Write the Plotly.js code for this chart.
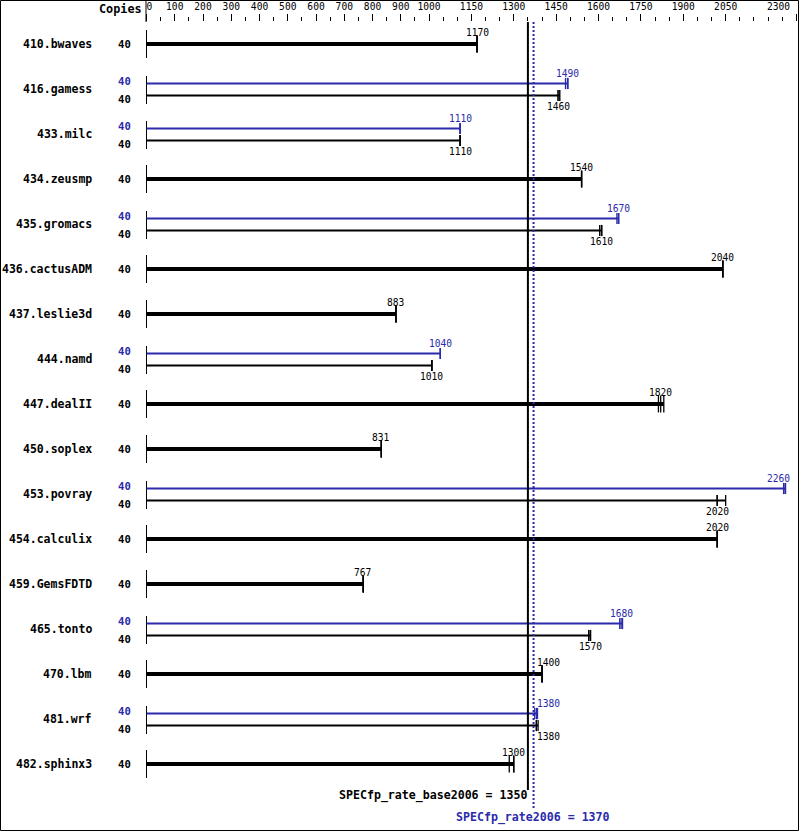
<!DOCTYPE html>
<html><head><meta charset="utf-8">
<script src="https://cdn.plot.ly/plotly-3.0.1.min.js"></script>
<style>html,body{margin:0;padding:0;background:#fff}#chart{width:799px;height:831px}</style>
</head><body><div id="chart"></div>
<script>
// ---------- data ----------
const benchmarks = ["410.bwaves","416.gamess","433.milc","434.zeusmp","435.gromacs","436.cactusADM","437.leslie3d","444.namd","447.dealII","450.soplex","453.povray","454.calculix","459.GemsFDTD","465.tonto","470.lbm","481.wrf","482.sphinx3"];
const baseCopies = [40,40,40,40,40,40,40,40,40,40,40,40,40,40,40,40,40];
const peakCopies = [null,40,40,null,40,null,null,40,null,null,40,null,null,40,null,40,null];
const baseValues = [1170,1460,1110,1540,1610,2040,883,1010,1820,831,2020,2020,767,1570,1400,1380,1300];
const baseRunLow  = [1170,1456,1110,1540,1604,2040,883,1010,1812,831,2020,2020,767,1565,1400,1380,1284];
const baseRunHigh = [1170,1463,1110,1540,1612,2040,883,1010,1831,831,2050,2020,767,1572,1400,1386,1300];
const peakValues  = [null,1490,1110,null,1670,null,null,1040,null,null,2260,null,null,1680,null,1380,null];
const peakRunLow  = [null,1483,1110,null,1665,null,null,1040,null,null,2255,null,null,1675,null,1374,null];
const peakRunHigh = [null,1492,1110,null,1672,null,null,1040,null,null,2262,null,null,1685,null,1384,null];
const baseScore = 1350;
const peakScore = 1370;
const baseScoreLabel = "SPECfp_rate_base2006 = 1350";
const peakScoreLabel = "SPECfp_rate2006 = 1370";
const tickValues = [0,100,200,300,400,500,600,700,800,900,1000,1150,1300,1450,1600,1750,1900,2050,2300];
const tickLabels = ["0","100","200","300","400","500","600","700","800","900","1000","1150","1300","1450","1600","1750","1900","2050","2300"];
const minorTickValues = [50,150,250,350,450,550,650,750,850,950,1050,1100,1200,1250,1350,1400,1500,1550,1650,1700,1800,1850,1950,2000,2100,2150,2200,2250];

// ---------- styling / geometry ----------
const BLUE = "#2a2aaa";
const W = 799, H = 831;
const ML = 146, MR = 1, MT = 22, MB = 1;
const ROWPX = 45;
const xmin = -1.77, xmax = 2306;
const plotW = W - ML - MR, plotH = H - MT - MB;
const pxPer = plotW / (xmax - xmin);
const yTop = -(44 - MT) / ROWPX;
const yBot = yTop + plotH / ROWPX;
const MONO = "DejaVu Sans Mono";
const off = p => p / ROWPX; // pixel offset -> row units

function xpx(v){ return ML + (v - xmin) * pxPer; }

const isPair = i => peakValues[i] !== null;

// ---------- traces ----------
const traces = [];
// start segments
const segX = [], segY = [];
benchmarks.forEach((b, i) => {
  const a = isPair(i) ? -13 : -14, z = isPair(i) ? 15 : 14;
  segX.push(0, 0, null); segY.push(i + off(a), i + off(z), null);
});
traces.push({x: segX, y: segY, mode: "lines", line: {color: "black", width: 1}, hoverinfo: "skip"});

function barTrace(idx, vals, lo, hi, dy, color, width) {
  const x = [], y = [];
  idx.forEach(i => { x.push(0, Math.max(vals[i], hi[i]), null); y.push(i + off(dy), i + off(dy), null); });
  return {x, y, mode: "lines", line: {color, width}, hoverinfo: "skip"};
}
function tickTrace(idx, vals, lo, hi, dy, color, size, lw) {
  const x = [], y = [];
  idx.forEach(i => { [lo[i], vals[i], hi[i]].forEach(v => { x.push(v); y.push(i + off(dy)); }); });
  return {x, y, mode: "markers", marker: {symbol: "line-ns", size, color, line: {color, width: lw}}, hoverinfo: "skip"};
}
const singles = benchmarks.map((b, i) => i).filter(i => !isPair(i));
const pairs = benchmarks.map((b, i) => i).filter(i => isPair(i));

traces.push(barTrace(singles, baseValues, baseRunLow, baseRunHigh, 0, "black", 4));
traces.push(tickTrace(singles, baseValues, baseRunLow, baseRunHigh, 0, "black", 12, 1.3));
traces.push(barTrace(pairs, peakValues, peakRunLow, peakRunHigh, -5.5, BLUE, 2));
traces.push(tickTrace(pairs, peakValues, peakRunLow, peakRunHigh, -5.5, BLUE, 8, 1.3));
traces.push(barTrace(pairs, baseValues, baseRunLow, baseRunHigh, 6.5, "black", 2));
traces.push(tickTrace(pairs, baseValues, baseRunLow, baseRunHigh, 6.5, "black", 8, 1.3));

// score lines
traces.push({x: [baseScore, baseScore], y: [yTop, (790 - 44) / ROWPX], mode: "lines", line: {color: "black", width: 2}, hoverinfo: "skip"});
traces.push({x: [peakScore, peakScore], y: [yTop, (810 - 44) / ROWPX], mode: "lines", line: {color: BLUE, width: 2, dash: "2px,2px"}, hoverinfo: "skip"});

// ---------- annotations ----------
const ann = [];
const nameFont = {family: MONO, size: 11.5, color: "black", weight: "bold"};
const copyFont = c => ({family: MONO, size: 10.6, color: c, weight: "bold"});
const valFont = c => ({family: MONO, size: 9.6, color: c});

function valueLabel(v, row, dyPx, color) {
  const txt = String(v);
  const cx = xpx(v), w = txt.length * 5.8;
  const l = cx - w / 2, r = cx + w / 2;
  const lineL = xpx(baseScore) - 1, lineR = xpx(peakScore) + 1;
  const a = {x: v, y: row, xref: "x", yref: "y", text: txt, showarrow: false, font: valFont(color),
             yanchor: "middle", yshift: -dyPx, xanchor: "center", xshift: 0};
  if (r > lineL && l < lineR) { a.x = peakScore; a.xanchor = "left"; a.xshift = 1; }
  else if (r > W - 6) { a.xanchor = "right"; a.xshift = (W - 7) - cx; }
  ann.push(a);
}

benchmarks.forEach((b, i) => {
  ann.push({x: 0, xref: "paper", y: i, yref: "y", text: b, showarrow: false, xanchor: "right", xshift: 93 - ML + 1, yanchor: "middle", font: nameFont});
  if (isPair(i)) {
    ann.push({x: 0, xref: "paper", y: i, yref: "y", text: String(peakCopies[i]), showarrow: false, xanchor: "center", xshift: 124.5 - ML, yanchor: "middle", yshift: 8, font: copyFont(BLUE)});
    ann.push({x: 0, xref: "paper", y: i, yref: "y", text: String(baseCopies[i]), showarrow: false, xanchor: "center", xshift: 124.5 - ML, yanchor: "middle", yshift: -10, font: copyFont("black")});
    valueLabel(peakValues[i], i, -15.5, BLUE);
    valueLabel(baseValues[i], i, 17.5, "black");
  } else {
    ann.push({x: 0, xref: "paper", y: i, yref: "y", text: String(baseCopies[i]), showarrow: false, xanchor: "center", xshift: 124.5 - ML, yanchor: "middle", font: copyFont("black")});
    valueLabel(baseValues[i], i, -12, "black");
  }
});
const last = benchmarks.length - 1;
const lastPx = 44 + last * ROWPX;
ann.push({x: baseScore, xref: "x", y: last, yref: "y", text: baseScoreLabel, showarrow: false, xanchor: "right", xshift: 1, yanchor: "middle", yshift: -(795 - lastPx), font: {family: MONO, size: 11.6, color: "black", weight: "bold"}});
ann.push({x: peakScore, xref: "x", y: last, yref: "y", text: peakScoreLabel, showarrow: false, xanchor: "center", xshift: -1, yanchor: "middle", yshift: -(817 - lastPx), font: {family: MONO, size: 11.6, color: BLUE, weight: "bold"}});
ann.push({x: 0, xref: "paper", y: 1, yref: "paper", text: "Copies", showarrow: false, xanchor: "right", xshift: -2, yanchor: "middle", yshift: 13, font: {family: MONO, size: 11.8, color: "black", weight: "bold"}});

// last tick label is drawn right-aligned to its tick (as in the reference) so it stays inside the picture
const lastTick = tickValues.length - 1;
ann.push({x: tickValues[lastTick], xref: "x", y: 1, yref: "paper", text: tickLabels[lastTick], showarrow: false,
          xanchor: "right", xshift: 791 - xpx(tickValues[lastTick]) + 1, yanchor: "middle", yshift: 15.5,
          font: {family: MONO, size: 9.6, color: "black"}});
const tickText = tickLabels.map((t, k) => k === 0 ? "\u00a0" + t : (k === lastTick ? "" : t));

const layout = {
  width: W, height: H,
  margin: {l: ML, r: MR, t: MT, b: MB, pad: 0},
  paper_bgcolor: "white", plot_bgcolor: "white",
  showlegend: false,
  font: {family: MONO, color: "black"},
  xaxis: {
    side: "top", range: [xmin, xmax], showgrid: false, zeroline: false, showline: false,
    tickmode: "array", tickvals: tickValues, ticktext: tickText,
    ticks: "outside", ticklen: 7, tickwidth: 1, tickcolor: "black",
    ticklabeloverflow: "allow",
    tickfont: {family: MONO, size: 9.6, color: "black"}, tickangle: 0,
    minor: {tickmode: "array", tickvals: minorTickValues, ticks: "outside", ticklen: 4, tickwidth: 1, tickcolor: "black", showgrid: false},
    fixedrange: true
  },
  yaxis: {range: [yBot, yTop], visible: false, showgrid: false, zeroline: false, fixedrange: true},
  annotations: ann,
  shapes: [
    {type: "rect", xref: "paper", yref: "paper",
     x0: (0.5 - ML) / plotW, x1: (W - 0.5 - ML) / plotW,
     y0: (-(MB - 0.5)) / plotH, y1: (plotH + MT - 0.5) / plotH,
     line: {color: "black", width: 1}, fillcolor: "rgba(0,0,0,0)"},
    {type: "line", xref: "paper", yref: "paper", x0: 0, x1: 0, y0: 1, y1: (plotH + MT) / plotH,
     line: {color: "black", width: 1}}
  ]
};
Plotly.newPlot("chart", traces, layout, {displayModeBar: false, staticPlot: true});
</script>
</body></html>
